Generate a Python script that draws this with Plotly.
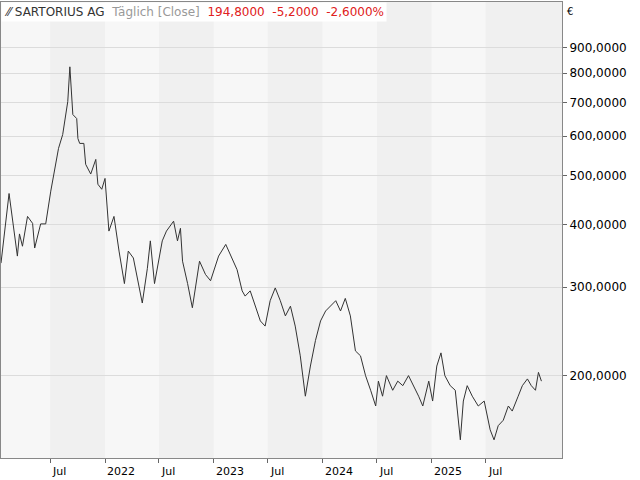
import plotly.graph_objects as go

# Sartorius AG daily close, EUR
dates = [
    "2021-01-17", "2021-02-13", "2021-03-13", "2021-03-20", "2021-03-30", "2021-04-16",
    "2021-05-03", "2021-05-10", "2021-05-30", "2021-06-16", "2021-07-03", "2021-07-29",
    "2021-08-12", "2021-08-29", "2021-09-05", "2021-09-15", "2021-09-28", "2021-10-02",
    "2021-10-08", "2021-10-22", "2021-10-28", "2021-11-14", "2021-12-01", "2021-12-08",
    "2021-12-21", "2022-01-01", "2022-01-14", "2022-01-31", "2022-02-17", "2022-03-07",
    "2022-03-20", "2022-04-06", "2022-05-06", "2022-05-23", "2022-06-02", "2022-06-16",
    "2022-07-12", "2022-07-26", "2022-08-19", "2022-09-01", "2022-09-11", "2022-09-18",
    "2022-10-05", "2022-10-21", "2022-11-14", "2022-12-04", "2022-12-21", "2023-01-17",
    "2023-02-10", "2023-02-27", "2023-03-20", "2023-04-06", "2023-04-16", "2023-05-03",
    "2023-05-20", "2023-06-06", "2023-06-22", "2023-07-09", "2023-07-26", "2023-08-12",
    "2023-08-29", "2023-09-15", "2023-10-01", "2023-10-18", "2023-11-04", "2023-11-21",
    "2023-12-08", "2023-12-25", "2024-01-11", "2024-01-28", "2024-02-14", "2024-03-01",
    "2024-03-17", "2024-04-03", "2024-04-20", "2024-05-07", "2024-05-24", "2024-06-10",
    "2024-06-27", "2024-07-06", "2024-07-20", "2024-08-02", "2024-08-23", "2024-09-09",
    "2024-09-26", "2024-10-15", "2024-11-02", "2024-11-18", "2024-12-02", "2024-12-22",
    "2025-01-04", "2025-01-18", "2025-02-01", "2025-02-14", "2025-03-04", "2025-03-21",
    "2025-04-07", "2025-04-17", "2025-04-30", "2025-05-17", "2025-06-06", "2025-06-26",
    "2025-07-16", "2025-07-29", "2025-08-12", "2025-08-29", "2025-09-15", "2025-09-28",
    "2025-10-18", "2025-11-01", "2025-11-18", "2025-12-01", "2025-12-15", "2025-12-25",
    "2026-01-04",
]
close = [
    335, 461, 346, 383, 362, 415,
    402, 359, 401, 401, 466, 567,
    604, 703, 824, 662, 650, 593,
    580, 580, 527, 504, 539, 481,
    470, 494, 388, 415, 354, 305,
    354, 343, 279, 327, 371, 305,
    371, 388, 406, 371, 393, 338,
    305, 273, 338, 318, 309, 346,
    365, 346, 325, 295, 288, 295,
    275, 257, 251, 282, 299, 282,
    263, 275, 251, 219, 182, 209,
    235, 257, 269, 275, 282, 269,
    285, 263, 224, 219, 200, 187,
    174, 195, 182, 200, 187, 195,
    191, 200, 191, 182, 174, 195,
    178, 209, 222, 200, 191, 187,
    149, 178, 191, 182, 174, 178,
    156, 149, 159, 163, 174, 170,
    182, 191, 197, 191, 187, 203,
    195,
]

tick_vals = [200, 300, 400, 500, 600, 700, 800, 900]
tick_text = ["%d,0000" % v for v in tick_vals]
x_tick_vals = ["2021-07-01", "2022-01-01", "2022-07-01", "2023-01-01", "2023-07-01",
               "2024-01-01", "2024-07-01", "2025-01-01", "2025-07-01"]
x_tick_text = ["Jul", "2022", "Jul", "2023", "Jul", "2024", "Jul", "2025", "Jul"]

fig = go.Figure()

# alternating half-year background bands
bounds = ["2021-01-01", "2021-07-01", "2022-01-01", "2022-07-01", "2023-01-01", "2023-07-01",
          "2024-01-01", "2024-07-01", "2025-01-01", "2025-07-01", "2026-06-01"]
for i in range(len(bounds) - 1):
    fig.add_shape(type="rect", xref="x", yref="paper", x0=bounds[i], x1=bounds[i + 1],
                  y0=0, y1=1, fillcolor="#f7f7f7" if i % 2 == 0 else "#f0f0f0",
                  line_width=0, layer="below")

fig.add_trace(go.Scatter(x=dates, y=close, mode="lines",
                         line=dict(color="#333333", width=1), showlegend=False))

# x tick labels as annotations so they sit snug under the axis
for tv, tt in zip(x_tick_vals, x_tick_text):
    fig.add_annotation(xref="x", yref="paper", x=tv, y=0, yshift=-5, xanchor="left",
                       yanchor="top", showarrow=False, text=tt,
                       font=dict(family="DejaVu Sans", size=11, color="#000"))

fig.add_annotation(
    xref="paper", yref="paper", x=0, y=1, xanchor="left", yanchor="top", showarrow=False,
    bgcolor="white", borderpad=2,
    text="<span style='color:#333'>⁄⁄ SARTORIUS AG</span>  <span style='color:#999'>Täglich [Close]</span>  "
         "<span style='color:#e02020'>194,8000  -5,2000  -2,6000%</span>",
    font=dict(family="DejaVu Sans", size=12),
)
fig.add_annotation(xref="paper", yref="paper", x=1.005, y=0.995, xanchor="left", yanchor="top",
                   showarrow=False, text="€", font=dict(family="DejaVu Sans", size=10, color="#000"))

fig.update_layout(
    width=640, height=480,
    margin=dict(l=1, r=78, t=2, b=22),
    paper_bgcolor="white", plot_bgcolor="#f7f7f7",
    font=dict(family="DejaVu Sans", size=12, color="#000"),
    xaxis=dict(range=["2021-01-17", "2026-03-14"], tickvals=x_tick_vals, showticklabels=False,
               showgrid=False, zeroline=False, ticks="outside", ticklen=4, tickcolor="#666",
               showline=True, linecolor="#888", mirror=True),
    yaxis=dict(type="log", range=[2.137, 3.045], side="right", tickvals=tick_vals,
               ticktext=tick_text, gridcolor="#dcdcdc", ticks="outside", ticklen=4,
               tickcolor="#666", showline=True, linecolor="#888", mirror=True,
               zeroline=False),
)

fig.write_html("out.html", config={"displayModeBar": False},
               post_script="document.body.style.margin='0';")
